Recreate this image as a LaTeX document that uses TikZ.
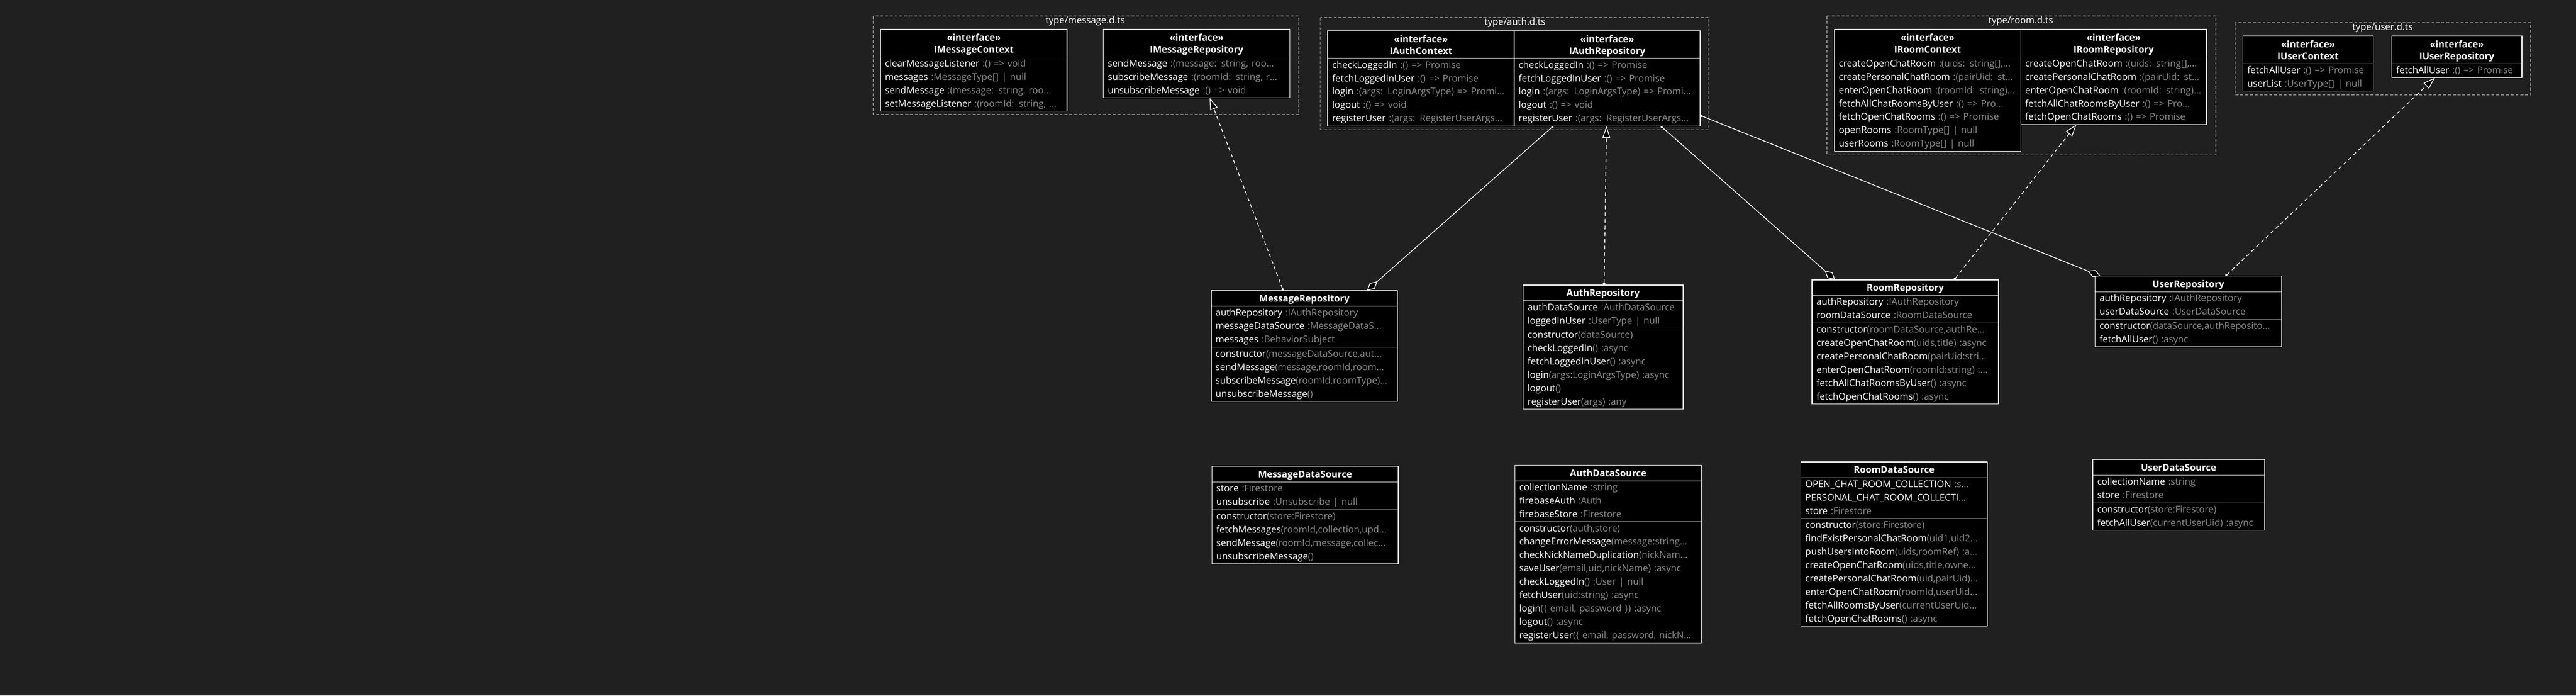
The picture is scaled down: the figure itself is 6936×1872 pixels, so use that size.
\documentclass[tikz,border=0pt]{standalone}
\usepackage{fontspec}
\setmainfont{Open Sans}
\usetikzlibrary{positioning,fit,arrows.meta}
\definecolor{bg}{RGB}{32,32,32}
\definecolor{divgray}{RGB}{128,128,128}
\definecolor{typegray}{RGB}{140,140,140}
\definecolor{pkggray}{RGB}{136,136,136}
\newcommand{\mtype}[1]{\textcolor{typegray}{#1}}
\newcommand{\mrow}[2]{\mbox{\strut#1\mtype{#2}}}
\newcommand{\ifchead}[1]{\rule{0pt}{10pt}«interface»\\\smash{#1}}

\begin{document}
\begin{tikzpicture}[x=0.5pt, y=0.5pt,
  cell/.style = {fill=black, draw=divgray, line width=1pt, text=white, inner sep=0pt, outer sep=0pt},
  cls/.style = {cell, font=\fontsize{12.6}{18}\selectfont\bfseries, minimum height=21pt, text height=9pt, text depth=0pt, anchor=north},
  ifc/.style = {cell, font=\fontsize{12.6}{16}\selectfont\bfseries, minimum height=37pt, align=center, anchor=north},
  comp/.style = {cell, font=\fontsize{12.6}{18}\selectfont, align=left, inner xsep=6pt, inner ysep=0.5pt, below=0pt of #1},
  outline/.style = {draw=white, line width=1pt, inner sep=0pt, outer sep=0pt},
  pkg/.style = {draw=pkggray, line width=1pt, dash pattern=on 4pt off 2.5pt},
  pkgtitle/.style = {text=white, font=\fontsize{12.6}{18}\selectfont, text height=9pt, text depth=0pt, inner sep=0pt},
  real/.style = {draw=white, line width=1pt, dash pattern=on 5pt off 4pt, {Circle[length=3.5pt]}-{Triangle[length=16pt, width=10.5pt, fill=black]}},
  aggr/.style = {draw=white, line width=1pt, {Diamond[length=19pt, width=10pt, fill=black]}-{Circle[length=3.5pt]}}]

\fill[bg] (0,0) rectangle (6936,-1872);
\useasboundingbox (0,0) rectangle (6936,-1872);

% type/message.d.ts
\draw[pkg] (2351,-43) rectangle (3497,-308);
\node[pkgtitle] (pm) at (2922,-54) {type/message.d.ts};
\node[ifc, minimum width=251pt] (imc) at (2622,-79) {\ifchead{IMessageContext}};
\node[comp=imc, text width=239pt] (imc-a) {\mrow{clearMessageListener}{\ :() => void}\\\mrow{messages}{\ :MessageType[] | null}\\\mrow{sendMessage}{\ :(message: string, roo...}\\\mrow{setMessageListener}{\ :(roomId: string, ...}};
\node[outline, fit=(imc)(imc-a)] (imcb) {};
\node[ifc, minimum width=251pt] (imr) at (3222,-79) {\ifchead{IMessageRepository}};
\node[comp=imr, text width=239pt] (imr-a) {\mrow{sendMessage}{\ :(message: string, roo...}\\\mrow{subscribeMessage}{\ :(roomId: string, r...}\\\mrow{unsubscribeMessage}{\ :() => void}};
\node[outline, fit=(imr)(imr-a)] (imrb) {};

% type/auth.d.ts
\draw[pkg] (3555,-47) rectangle (4601,-349);
\node[pkgtitle] (pa) at (4079,-58) {type/auth.d.ts};
\node[ifc, minimum width=251pt] (iac) at (3826,-83) {\ifchead{IAuthContext}};
\node[comp=iac, text width=239pt] (iac-a) {\mrow{checkLoggedIn}{\ :() => Promise}\\\mrow{fetchLoggedInUser}{\ :() => Promise}\\\mrow{login}{\ :(args: LoginArgsType) => Promi...}\\\mrow{logout}{\ :() => void}\\\mrow{registerUser}{\ :(args: RegisterUserArgs...}};
\node[outline, fit=(iac)(iac-a)] (iacb) {};
\node[ifc, minimum width=250.5pt] (iar) at (4327.5,-83) {\ifchead{IAuthRepository}};
\node[comp=iar, text width=238.5pt] (iar-a) {\mrow{checkLoggedIn}{\ :() => Promise}\\\mrow{fetchLoggedInUser}{\ :() => Promise}\\\mrow{login}{\ :(args: LoginArgsType) => Promi...}\\\mrow{logout}{\ :() => void}\\\mrow{registerUser}{\ :(args: RegisterUserArgs...}};
\node[outline, fit=(iar)(iar-a)] (iarb) {};

% type/room.d.ts
\draw[pkg] (4919,-43) rectangle (5966,-417);
\node[pkgtitle] (pr) at (5441,-54) {type/room.d.ts};
\node[ifc, minimum width=251pt] (irc) at (5190,-79) {\ifchead{IRoomContext}};
\node[comp=irc, text width=239pt] (irc-a) {\mrow{createOpenChatRoom}{\ :(uids: string[],...}\\\mrow{createPersonalChatRoom}{\ :(pairUid: st...}\\\mrow{enterOpenChatRoom}{\ :(roomId: string)...}\\\mrow{fetchAllChatRoomsByUser}{\ :() => Pro...}\\\mrow{fetchOpenChatRooms}{\ :() => Promise}\\\mrow{openRooms}{\ :RoomType[] | null}\\\mrow{userRooms}{\ :RoomType[] | null}};
\node[outline, fit=(irc)(irc-a)] (ircb) {};
\node[ifc, minimum width=250pt] (irr) at (5691,-79) {\ifchead{IRoomRepository}};
\node[comp=irr, text width=238pt] (irr-a) {\mrow{createOpenChatRoom}{\ :(uids: string[],...}\\\mrow{createPersonalChatRoom}{\ :(pairUid: st...}\\\mrow{enterOpenChatRoom}{\ :(roomId: string)...}\\\mrow{fetchAllChatRoomsByUser}{\ :() => Pro...}\\\mrow{fetchOpenChatRooms}{\ :() => Promise}};
\node[outline, fit=(irr)(irr-a)] (irrb) {};

% type/user.d.ts
\draw[pkg] (6018,-61) rectangle (6814,-255);
\node[pkgtitle] (pu) at (6415,-72) {type/user.d.ts};
\node[ifc, minimum width=175.5pt] (iuc) at (6214.5,-97) {\ifchead{IUserContext}};
\node[comp=iuc, text width=163.5pt] (iuc-a) {\mrow{fetchAllUser}{\ :() => Promise}\\\mrow{userList}{\ :UserType[] | null}};
\node[outline, fit=(iuc)(iuc-a)] (iucb) {};
\node[ifc, minimum width=175pt] (iur) at (6615,-97) {\ifchead{IUserRepository}};
\node[comp=iur, text width=163pt] (iur-a) {\mrow{fetchAllUser}{\ :() => Promise}};
\node[outline, fit=(iur)(iur-a)] (iurb) {};

% repositories
\node[cls, minimum width=251pt] (mr) at (3512,-782) {MessageRepository};
\node[comp=mr, text width=239pt] (mr-a) {\mrow{authRepository}{\ :IAuthRepository}\\\mrow{messageDataSource}{\ :MessageDataS...}\\\mrow{messages}{\ :BehaviorSubject}};
\node[comp=mr-a, text width=239pt] (mr-m) {\mrow{constructor}{(messageDataSource,aut...}\\\mrow{sendMessage}{(message,roomId,room...}\\\mrow{subscribeMessage}{(roomId,roomType)...}\\\mrow{unsubscribeMessage}{()}};
\node[outline, fit=(mr)(mr-m)] (mrb) {};

\node[cls, minimum width=215.5pt] (ar) at (4316.5,-767) {AuthRepository};
\node[comp=ar, text width=203.5pt] (ar-a) {\mrow{authDataSource}{\ :AuthDataSource}\\\mrow{loggedInUser}{\ :UserType | null}};
\node[comp=ar-a, text width=203.5pt] (ar-m) {\mrow{constructor}{(dataSource)}\\\mrow{checkLoggedIn}{() :async}\\\mrow{fetchLoggedInUser}{() :async}\\\mrow{login}{(args:LoginArgsType) :async}\\\mrow{logout}{()}\\\mrow{registerUser}{(args) :any}};
\node[outline, fit=(ar)(ar-m)] (arb) {};

\node[cls, minimum width=251pt] (rr) at (5130,-753) {RoomRepository};
\node[comp=rr, text width=239pt] (rr-a) {\mrow{authRepository}{\ :IAuthRepository}\\\mrow{roomDataSource}{\ :RoomDataSource}};
\node[comp=rr-a, text width=239pt] (rr-m) {\mrow{constructor}{(roomDataSource,authRe...}\\\mrow{createOpenChatRoom}{(uids,title) :async}\\\mrow{createPersonalChatRoom}{(pairUid:stri...}\\\mrow{enterOpenChatRoom}{(roomId:string) :...}\\\mrow{fetchAllChatRoomsByUser}{() :async}\\\mrow{fetchOpenChatRooms}{() :async}};
\node[outline, fit=(rr)(rr-m)] (rrb) {};

\node[cls, minimum width=251pt] (ur) at (5892,-743) {UserRepository};
\node[comp=ur, text width=239pt] (ur-a) {\mrow{authRepository}{\ :IAuthRepository}\\\mrow{userDataSource}{\ :UserDataSource}};
\node[comp=ur-a, text width=239pt] (ur-m) {\mrow{constructor}{(dataSource,authReposito...}\\\mrow{fetchAllUser}{() :async}};
\node[outline, fit=(ur)(ur-m)] (urb) {};

% data sources
\node[cls, minimum width=251pt] (mds) at (3514,-1255) {MessageDataSource};
\node[comp=mds, text width=239pt] (mds-a) {\mrow{store}{\ :Firestore}\\\mrow{unsubscribe}{\ :Unsubscribe | null}};
\node[comp=mds-a, text width=239pt] (mds-m) {\mrow{constructor}{(store:Firestore)}\\\mrow{fetchMessages}{(roomId,collection,upd...}\\\mrow{sendMessage}{(roomId,message,collec...}\\\mrow{unsubscribeMessage}{()}};
\node[outline, fit=(mds)(mds-m)] (mdsb) {};

\node[cls, minimum width=251pt] (ads) at (4330,-1252) {AuthDataSource};
\node[comp=ads, text width=239pt] (ads-a) {\mrow{collectionName}{\ :string}\\\mrow{firebaseAuth}{\ :Auth}\\\mrow{firebaseStore}{\ :Firestore}};
\node[comp=ads-a, text width=239pt] (ads-m) {\mrow{constructor}{(auth,store)}\\\mrow{changeErrorMessage}{(message:string...}\\\mrow{checkNickNameDuplication}{(nickNam...}\\\mrow{saveUser}{(email,uid,nickName) :async}\\\mrow{checkLoggedIn}{() :User | null}\\\mrow{fetchUser}{(uid:string) :async}\\\mrow{login}{(\{ email, password \}) :async}\\\mrow{logout}{() :async}\\\mrow{registerUser}{(\{ email, password, nickN...}};
\node[outline, fit=(ads)(ads-m)] (adsb) {};

\node[cls, minimum width=251pt] (rds) at (5100,-1243) {RoomDataSource};
\node[comp=rds, text width=239pt] (rds-a) {\mrow{OPEN\_CHAT\_ROOM\_COLLECTION}{\ :s...}\\\mrow{PERSONAL\_CHAT\_ROOM\_COLLECTI...}{}\\\mrow{store}{\ :Firestore}};
\node[comp=rds-a, text width=239pt] (rds-m) {\mrow{constructor}{(store:Firestore)}\\\mrow{findExistPersonalChatRoom}{(uid1,uid2...}\\\mrow{pushUsersIntoRoom}{(uids,roomRef) :a...}\\\mrow{createOpenChatRoom}{(uids,title,owne...}\\\mrow{createPersonalChatRoom}{(uid,pairUid)...}\\\mrow{enterOpenChatRoom}{(roomId,userUid...}\\\mrow{fetchAllRoomsByUser}{(currentUserUid...}\\\mrow{fetchOpenChatRooms}{() :async}};
\node[outline, fit=(rds)(rds-m)] (rdsb) {};

\node[cls, minimum width=231pt] (uds) at (5866,-1237) {UserDataSource};
\node[comp=uds, text width=219pt] (uds-a) {\mrow{collectionName}{\ :string}\\\mrow{store}{\ :Firestore}};
\node[comp=uds-a, text width=219pt] (uds-m) {\mrow{constructor}{(store:Firestore)}\\\mrow{fetchAllUser}{(currentUserUid) :async}};
\node[outline, fit=(uds)(uds-m)] (udsb) {};

% relations
\draw[real] (mrb) -- (imrb);
\draw[aggr] (mrb) -- (iarb);
\draw[real] (arb) -- (iarb);
\draw[aggr] (rrb) -- (iarb);
\draw[real] (rrb) -- (irrb);
\draw[aggr] (urb) -- (iarb);
\draw[real] (urb) -- (iurb);
\end{tikzpicture}
\end{document}
